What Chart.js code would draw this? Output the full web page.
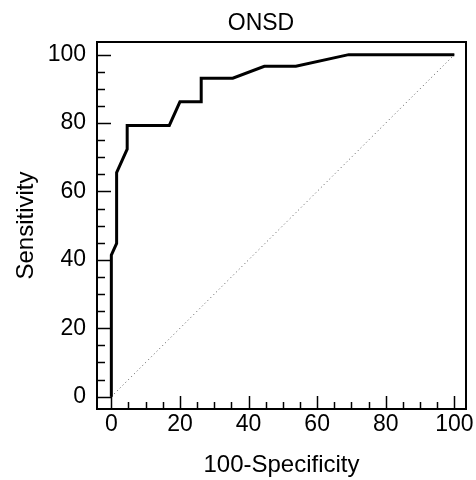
<!DOCTYPE html>
<html>
<head>
<meta charset="utf-8">
<script src="https://cdn.jsdelivr.net/npm/chart.js@4.4.1/dist/chart.umd.min.js"></script>
<style>
  body { margin: 0; background: #fff; }
  #wrap { width: 476px; height: 480px; }
</style>
</head>
<body>
<div id="wrap"><canvas id="roc" width="476" height="480"></canvas></div>
<script>
// ROC curve points (100-Specificity, Sensitivity)
const fpr = [0, 0, 1.54, 1.54, 4.62, 4.62, 16.9, 20.0, 26.2, 26.2, 35.4, 44.6, 53.8, 69.2, 100];
const tpr = [0, 41.4, 44.8, 65.5, 72.4, 79.3, 79.3, 86.2, 86.2, 93.1, 93.1, 96.6, 96.6, 100, 100];

// reference diagonal
const diagX = [0, 100];
const diagY = [0, 100];

// tick labels
const xTicks = [0, 20, 40, 60, 80, 100];
const yTicks = [0, 20, 40, 60, 80, 100];
const minorTicks = [0, 5, 10, 15, 20, 25, 30, 35, 40, 45, 50, 55, 60, 65, 70, 75, 80, 85, 90, 95, 100];

const FONT = "'Liberation Sans', Arial, Helvetica, sans-serif";

function toPoints(xs, ys) {
    return xs.map((x, i) => ({ x: x, y: ys[i] }));
}

// frame + inward tick marks + title
const framePlugin = {
    id: "frame",
    afterDraw(chart) {
        const ctx = chart.ctx;
        const a = chart.chartArea;
        const xs = chart.scales.x;
        const ys = chart.scales.y;

        ctx.save();
        ctx.strokeStyle = "#000";
        ctx.lineWidth = 2;
        ctx.strokeRect(a.left, a.top, a.right - a.left, a.bottom - a.top);

        ctx.lineWidth = 1.5;
        minorTicks.forEach(v => {
            const len = xTicks.includes(v) ? 13 : 7;
            const px = Math.round(xs.getPixelForValue(v)) + 0.5;
            ctx.beginPath();
            ctx.moveTo(px, a.bottom);
            ctx.lineTo(px, a.bottom - len);
            ctx.stroke();
        });
        minorTicks.forEach(v => {
            const len = yTicks.includes(v) ? 14 : 8;
            const py = Math.round(ys.getPixelForValue(v)) + 0.5;
            ctx.beginPath();
            ctx.moveTo(a.left, py);
            ctx.lineTo(a.left + len, py);
            ctx.stroke();
        });

        ctx.fillStyle = "#000";
        ctx.font = "23px " + FONT;
        ctx.textAlign = "center";
        ctx.textBaseline = "middle";
        ctx.fillText("ONSD", 261, 24);
        ctx.restore();
    }
};

new Chart(document.getElementById("roc"), {
    type: "scatter",
    data: {
        datasets: [
            {
                data: toPoints(fpr, tpr),
                showLine: true,
                borderColor: "#000",
                borderWidth: 3,
                pointRadius: 0,
                tension: 0,
                fill: false
            },
            {
                data: toPoints(diagX, diagY),
                showLine: true,
                borderColor: "#555",
                borderWidth: 1,
                borderDash: [1, 3],
                pointRadius: 0,
                fill: false
            }
        ]
    },
    options: {
        responsive: false,
        animation: false,
        layout: { padding: { top: 42, right: 10, left: 0, bottom: 0 } },
        plugins: {
            legend: { display: false },
            title: { display: false },
            tooltip: { enabled: false }
        },
        scales: {
            x: {
                type: "linear",
                min: -4.18,
                max: 103.4,
                afterBuildTicks: s => { s.ticks = xTicks.map(v => ({ value: v })); },
                afterFit: s => { s.height = 71; },
                grid: { display: false, drawTicks: false },
                border: { display: false },
                ticks: {
                    autoSkip: false,
                    maxRotation: 0,
                    padding: 2,
                    color: "#000",
                    font: { family: FONT, size: 23 }
                },
                title: {
                    display: true,
                    text: "100-Specificity",
                    color: "#000",
                    font: { family: FONT, size: 24 },
                    padding: { top: 0, bottom: 0 }
                }
            },
            y: {
                type: "linear",
                min: -3.6,
                max: 103.7,
                afterBuildTicks: s => { s.ticks = yTicks.map(v => ({ value: v })); },
                afterFit: s => { s.width = 97; },
                grid: { display: false, drawTicks: false },
                border: { display: false },
                ticks: {
                    autoSkip: false,
                    padding: 11,
                    color: "#000",
                    font: { family: FONT, size: 23 }
                },
                title: {
                    display: true,
                    text: "Sensitivity",
                    color: "#000",
                    font: { family: FONT, size: 24 },
                    padding: { top: 12, bottom: 0 }
                }
            }
        }
    },
    plugins: [framePlugin]
});
</script>
</body>
</html>
